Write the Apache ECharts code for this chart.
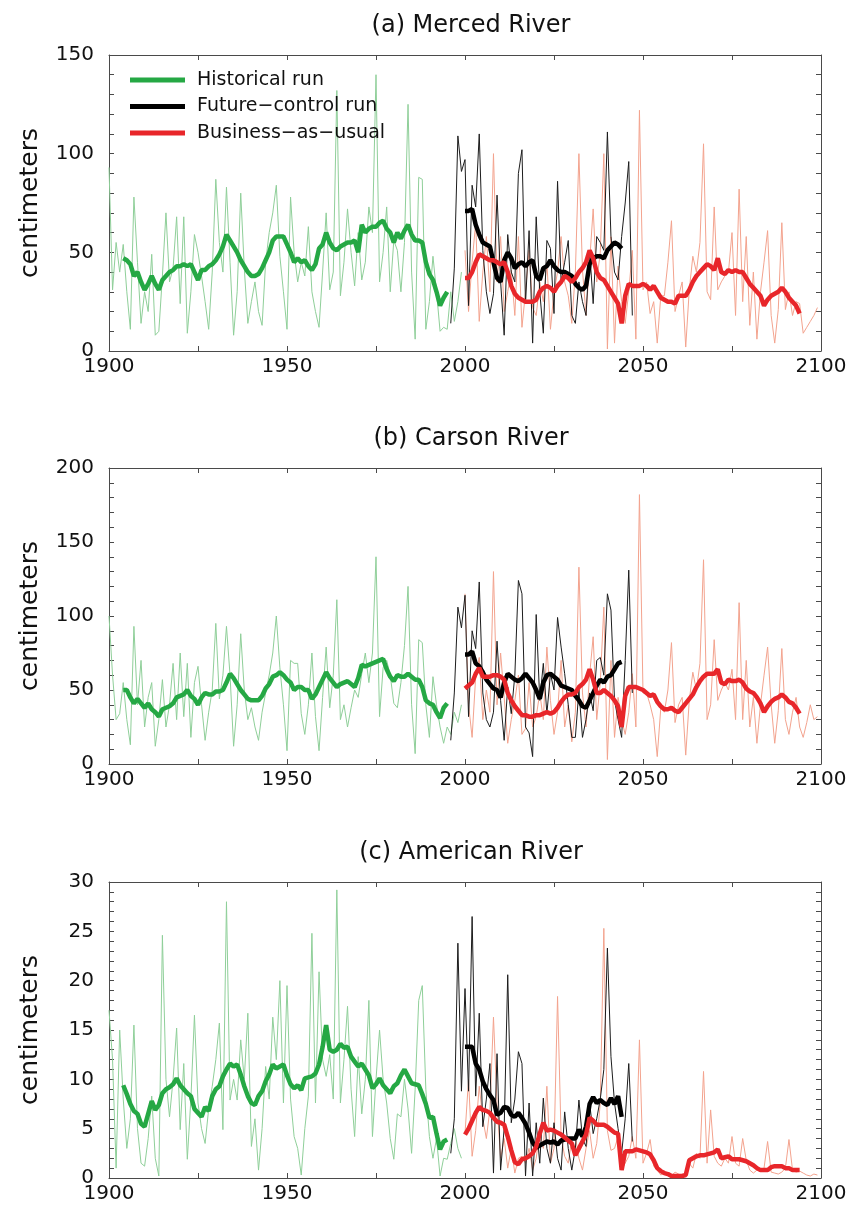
<!DOCTYPE html>
<html>
<head>
<meta charset="utf-8">
<title>Snow water equivalent</title>
<script src="https://cdn.jsdelivr.net/npm/echarts@6/dist/echarts.min.js"></script>
<style>
  html, body { margin: 0; padding: 0; background: #fff; }
  #chart { width: 852px; height: 1213px; }
</style>
</head>
<body>
<div id="chart"></div>
<script>
// first year of each series
const histStart = 1900, histSmoothStart = 1904;
const ctrlStart = 1996, ctrlSmoothStart = 2000;
const bauStart = 2000, bauSmoothStart = 2000;

const panelTitles = ['(a) Merced River', '(b) Carson River', '(c) American River'];
const yMax = [150, 200, 30];
const yStep = [50, 50, 5];
const xTicks = [1900, 1950, 2000, 2050, 2100];
const legendNames = ['Historical run', 'Future\u2212control run', 'Business\u2212as\u2212usual'];

// (a) Merced River
const mercedHist = [
  93,31,55,40,54,30,11,78,45,14, 30,20,49,8,10,38,70,35,42,68,
  24,68,9,30,59,50,38,25,11,40, 87,55,40,83,45,8,30,80,42,14,
  25,35,20,13,45,60,70,84,48,30, 11,78,50,35,45,38,63,30,20,12,
  40,70,31,40,132,28,45,72,50,33, 60,36,45,73,60,140,35,50,73,30,
  56,51,30,55,125,40,6,88,87,11, 25,48,30,10,12,11,30,15,25,40];
const mercedHistSmooth = [
  47,46,44,38,40,35,
  31,34,38,34,31,36,38,40,41,43, 43,44,43,44,40,36,41,41,43,44,
  46,49,53,59,56,53,50,46,43,40, 38,38,39,42,46,50,56,58,58,58,
  54,50,45,47,45,46,43,41,44,52, 54,60,55,52,51,53,54,55,55,56,
  50,64,60,62,63,63,65,66,62,60, 55,60,57,61,64,59,56,56,55,45,
  39,36,30,23,27,30];
const mercedCtrl = [
  14,42,109,91,
  97,23,84,73,110,51,30,19,29,79, 35,8,59,40,35,90,102,24,61,4,
  68,30,9,56,52,19,86,35,45,56, 18,14,35,25,18,51,24,58,55,51,
  111,58,40,36,58,75,96,18];
const mercedCtrlSmooth = [
  71,71,72,64,59,55,54,53,45,37, 35,46,50,47,42,44,45,43,45,46,
  38,36,42,43,46,43,41,40,40,39, 38,34,32,31,33,44,47,48,48,47,
  51,53,55,54,52];
const mercedBau = [
  51,20,45,65,15,40,58,30,100,35, 58,20,30,41,18,58,12,30,51,22,
  18,35,25,45,11,30,40,58,35,28, 14,40,100,41,18,45,72,35,50,100,
  1,58,4,43,25,14,30,51,6,122, 31,35,19,25,4,28,28,45,66,20,
  28,35,2,31,48,40,55,105,30,26, 73,31,35,38,40,60,18,82,25,58,
  13,40,6,30,45,61,18,4,21,65, 21,30,18,25,24,9,12,15,18,22];
const mercedBauSmooth = [
  37,37,40,45,49,48,47,46,46,45, 44,45,40,33,29,27,26,25,25,25,
  26,30,32,33,32,30,33,35,38,37, 35,37,40,42,45,51,47,40,37,36,
  33,30,27,24,14,28,34,33,33,33, 34,33,31,33,30,27,26,25,25,24,
  28,28,28,31,35,38,40,42,44,43, 41,47,40,39,41,40,41,40,40,37,
  34,32,30,28,23,26,28,29,30,32, 30,27,25,23,19];

// (b) Carson River
const carsonHist = [
  100,60,30,34,55,30,13,93,40,70, 25,45,55,12,30,57,25,40,68,30,
  75,32,68,18,55,66,40,16,35,50, 95,44,60,93,60,12,40,88,50,30,
  38,25,16,35,48,60,75,100,65,40, 9,70,68,68,34,20,40,75,32,9,
  45,79,38,60,111,30,40,25,38,50, 45,61,75,55,75,140,32,65,70,60,
  41,38,55,80,120,40,7,84,82,40, 18,59,40,25,14,25,20,35,28,40];
const carsonHistSmooth = [
  50,50,45,41,44,41,
  38,41,37,35,32,37,38,39,41,45, 46,47,50,46,44,40,45,48,47,47,
  49,49,50,55,61,58,54,50,47,44, 43,43,43,46,51,54,59,60,62,60,
  57,55,50,52,52,50,50,44,47,52, 57,62,58,55,52,54,55,56,54,52,
  58,67,66,67,68,69,70,71,64,59, 56,60,59,59,61,59,57,57,52,43,
  41,40,35,31,38,41];
const carsonCtrl = [
  16,48,106,92,
  114,32,90,78,123,48,30,25,35,83, 43,16,52,34,60,124,115,25,21,5,
  101,43,68,34,61,50,99,79,61,40, 18,18,50,18,30,48,36,70,72,60,
  115,104,43,30,18,70,131,48];
const carsonCtrlSmooth = [
  74,74,76,68,66,62,57,54,51,50, 45,55,61,59,57,56,58,61,58,55,
  50,44,55,60,61,59,57,53,52,51, 50,46,43,39,38,43,48,53,57,55,
  59,60,64,68,69];
const carsonBau = [
  115,40,18,59,72,30,50,35,130,40, 75,45,14,30,43,60,20,24,55,25,
  32,48,30,79,43,20,35,70,25,40, 15,35,133,48,25,60,86,30,55,106,
  3,70,18,45,30,20,35,61,25,182, 48,48,40,30,5,38,35,50,82,28,
  40,45,6,43,62,50,68,138,30,40, 84,43,50,55,50,64,30,109,30,70,
  25,45,14,40,60,79,40,14,36,78, 30,20,35,45,25,18,28,40,30,32];
const carsonBauSmooth = [
  51,53,55,61,65,59,59,59,60,60, 59,57,48,43,39,36,33,33,32,32,
  33,33,34,35,34,35,38,42,45,47, 47,48,52,54,57,64,57,48,48,50,
  48,46,43,39,25,46,52,52,52,51, 50,48,46,47,42,39,37,37,38,36,
  35,38,41,44,47,52,56,59,61,61, 61,64,55,54,57,56,56,57,55,51,
  49,48,45,41,35,39,42,44,45,47, 45,42,41,38,34];

// (c) American River
const americanHist = [
  17,12,1,15,8,3,6,15.5,5,1.5, 1.2,4,8.3,2,0.2,24.6,10,6.2,10,15.2,
  4.9,11.6,1.9,8,16.5,7.6,5,3.5,7,9.3, 12,15.7,4.9,28,7.9,10,7.9,14,10,16.7,
  3.2,6,0.8,5,11.3,8,16.3,12,20,7.6, 19.5,8,4.2,3,0.3,5,8.3,24.8,7.6,20.9,
  12,10.3,12.5,8,29.2,7.6,12,17.4,9,4.2, 12.3,6.5,10,18,4.2,10,15,10,7.6,4,
  1.9,6.5,6.2,10,7,2.5,9,18,19.5,9, 4.2,2,4,0.2,2,1.9,3.5,5,3,2];
const americanHistSmooth = [
  9.4,8.5,7.5,6.8,6.5,5.5,
  5.2,6.5,7.8,6.9,7.4,8.6,9.0,9.2,9.5,10.1, 9.4,9.0,8.6,8.3,7.0,6.6,6.2,7.2,6.8,8.3,
  9.0,9.3,10.3,11.0,11.6,11.3,11.5,10.5,9.3,8.3, 7.6,7.4,8.3,8.8,9.8,10.5,11.5,11.1,11.3,11.5,
  10.4,9.5,9.1,9.4,8.9,10.1,10.2,10.3,10.6,11.5, 13.3,15.5,13.0,12.8,13.0,13.6,13.2,13.3,12.3,11.8,
  11.3,11.6,11.0,10.4,9.1,9.5,10.1,9.4,9.0,8.6, 9.3,9.6,10.4,11.0,10.3,9.6,9.5,9.4,8.5,7.5,
  6.1,6.2,4.5,2.9,3.7,3.9];
const americanCtrl = [
  2.5,6,23.8,8.8,
  19.2,8.8,26.5,8.3,16.7,5.2,8,11.6,0.5,12.6, 0.8,5,20.6,5.6,8,12.8,11.6,0.2,7.6,0.2,
  5.6,1.5,8.1,3,1.5,5.6,2,0.8,6.7,3, 0.8,3,7.9,4,3.2,7.6,4.5,6,8,11,
  23.3,12.3,7.6,5,2.5,6,11.6,3.7];
const americanCtrlSmooth = [
  13.3,13.3,13.3,11.6,11.0,9.8,9.0,8.4,7.9,6.4, 6.6,7.2,7.1,6.4,6.2,6.6,6.1,5.5,4.6,3.6,
  3.1,3.3,3.5,3.7,3.6,3.7,3.4,3.8,3.9,4.0, 4.0,4.0,4.9,4.2,5.2,7.5,8.2,7.6,7.9,7.6,
  7.4,8.1,7.5,8.3,6.2];
const americanBau = [
  4.5,10,2.2,4.8,9.3,6,4,7,16.3,7.5, 2,4,1,3,0.5,2,2.2,1.5,3,0.8,
  2,4.8,3,9.3,1.5,3,18.4,4.2,2.2,1.5, 4,4.2,2,0.8,3,4.8,2,3.5,7.6,25.3,
  4.8,2.8,3,4.2,0.8,1.5,2.2,4.2,2,14, 1.5,2.5,3.9,1.2,0.8,0.3,0.5,0.3,0.2,0.6,
  0.4,0.2,0.5,1.5,1,2.5,2,10.8,1.5,6.9, 2.2,1.5,1.2,2,1.5,4.2,1.5,1.2,4,1.8,
  0.8,0.5,0.8,0.7,1,3.7,0.6,0.5,0.4,0.6, 1,3.9,0.8,0.6,0.7,0.5,0.3,0.2,0.4,0.3];
const americanBauSmooth = [
  4.4,5.0,5.8,6.6,7.2,6.9,6.8,6.6,6.1,5.7, 5.6,5.4,4.2,2.8,1.6,1.4,1.9,2.0,2.2,2.5,
  3.2,4.5,5.6,4.8,4.9,4.8,4.6,4.4,4.1,3.8, 3.5,2.3,3.0,3.7,4.4,6.1,5.8,5.4,5.4,5.4,
  5.2,4.9,4.6,4.5,0.8,2.7,2.7,2.7,2.9,2.8, 2.7,2.6,2.4,1.8,1.0,0.7,0.5,0.4,0.2,0.2,
  0.2,0.2,0.3,1.8,2.0,2.2,2.3,2.3,2.4,2.5, 2.6,2.9,2.0,2.1,2.2,1.9,1.9,1.9,1.8,1.7,
  1.5,1.3,1.0,0.8,0.8,0.8,1.1,1.2,1.2,1.2, 1.0,1.0,0.8,0.8,0.8];

const panels = [
  [mercedHist, mercedHistSmooth, mercedCtrl, mercedCtrlSmooth, mercedBau, mercedBauSmooth],
  [carsonHist, carsonHistSmooth, carsonCtrl, carsonCtrlSmooth, carsonBau, carsonBauSmooth],
  [americanHist, americanHistSmooth, americanCtrl, americanCtrlSmooth, americanBau, americanBauSmooth]
];

const font = 'DejaVu Sans, Verdana, sans-serif';
const frame = '#4a4a4a';
const gridTops = [55, 468, 882];
const titleTops = [9, 422, 836];

function pairs(start, vals) {
  return vals.map((v, i) => [start + i, v]);
}

function line(name, i, start, vals, color, width, z) {
  return {
    name: name, type: 'line', xAxisIndex: 2 * i, yAxisIndex: 2 * i,
    data: pairs(start, vals), showSymbol: false, symbol: 'none', silent: true,
    color: color, lineStyle: { color: color, width: width }, z: z
  };
}

const grids = [], xAxes = [], yAxes = [], series = [], titles = [];

panels.forEach((p, i) => {
  grids.push({ left: 109, top: gridTops[i], width: 712, height: 296 });
  titles.push({
    text: panelTitles[i], left: 466, top: titleTops[i], textAlign: 'center',
    textStyle: { fontSize: 24, fontWeight: 'normal', color: '#111', fontFamily: font }
  });

  ['bottom', 'top'].forEach(pos => {
    xAxes.push({
      type: 'value', gridIndex: i, position: pos, min: 1900, max: 2100, interval: 25,
      axisLine: { show: true, onZero: false, lineStyle: { color: frame, width: 1 } },
      axisTick: { show: true, inside: true, length: 5, lineStyle: { color: frame } },
      axisLabel: {
        show: pos === 'bottom', fontSize: 20, color: '#111', fontFamily: font, margin: 6,
        showMinLabel: true, showMaxLabel: true,
        formatter: v => xTicks.includes(v) ? String(v) : ''
      },
      splitLine: { show: false }
    });
  });

  ['left', 'right'].forEach(pos => {
    yAxes.push({
      type: 'value', gridIndex: i, position: pos, min: 0, max: yMax[i], interval: yStep[i],
      name: pos === 'left' ? 'centimeters' : '',
      nameLocation: 'middle', nameGap: 66,
      nameTextStyle: { fontSize: 25, color: '#111', fontFamily: font },
      axisLine: { show: true, onZero: false, lineStyle: { color: frame, width: 1 } },
      axisTick: { show: true, inside: true, length: 5, lineStyle: { color: frame } },
      minorTick: { show: true, splitNumber: 5, length: 5, lineStyle: { color: frame } },
      axisLabel: { show: pos === 'left', fontSize: 20, color: '#111', fontFamily: font, margin: 15 },
      splitLine: { show: false }
    });
  });

  // thin annual values underneath, thick running means on top
  series.push(line('Historical annual', i, histStart, p[0], '#8fcf99', 1, 2));
  series.push(line('BAU annual', i, bauStart, p[4], '#f3a38e', 1, 3));
  series.push(line('Control annual', i, ctrlStart, p[2], '#1c1c1c', 1, 4));
  series.push(line(legendNames[0], i, histSmoothStart, p[1], '#25a844', 4.5, 5));
  series.push(line(legendNames[1], i, ctrlSmoothStart, p[3], '#000000', 4.5, 6));
  series.push(line(legendNames[2], i, bauSmoothStart, p[5], '#e8262a', 4.5, 7));
});

const chart = echarts.init(document.getElementById('chart'));
chart.setOption({
  animation: false,
  backgroundColor: '#fff',
  textStyle: { fontFamily: font },
  title: titles,
  legend: {
    orient: 'vertical', left: 125, top: 65, itemWidth: 55, itemHeight: 5, itemGap: 6.5,
    icon: 'rect', selectedMode: false, data: legendNames,
    textStyle: { fontSize: 19, lineHeight: 20, color: '#111', fontFamily: font, padding: [0, 0, 0, 7] }
  },
  grid: grids,
  xAxis: xAxes,
  yAxis: yAxes,
  series: series
});
</script>
</body>
</html>
